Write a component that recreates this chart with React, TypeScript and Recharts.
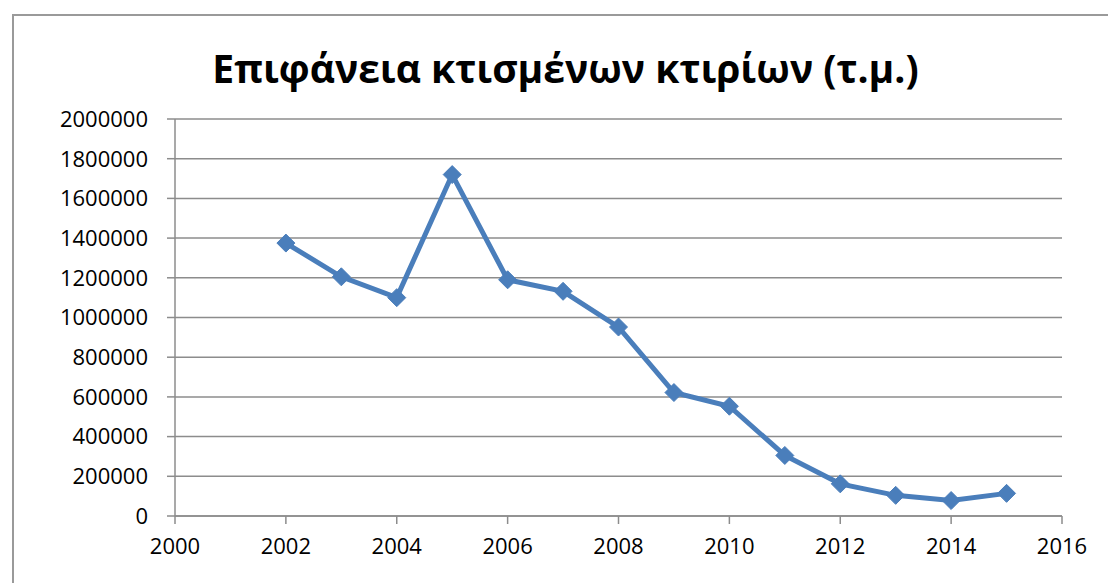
import { LineChart, Line, XAxis, YAxis, CartesianGrid } from "recharts";

const years = [2002, 2003, 2004, 2005, 2006, 2007, 2008, 2009, 2010, 2011, 2012, 2013, 2014, 2015];
const builtArea = [1375000, 1205000, 1100000, 1720000, 1190000, 1132000, 952000, 622000, 553000, 305000, 162000, 104000, 78000, 114000];
const xTicks = [2000, 2002, 2004, 2006, 2008, 2010, 2012, 2014, 2016];
const yTicks = [0, 200000, 400000, 600000, 800000, 1000000, 1200000, 1400000, 1600000, 1800000, 2000000];

const data = years.map((year, i) => ({ year, area: builtArea[i] }));

const BLUE = "#4a7ebb";
const GRID = "#8c8c8c";
const FONT = "'Open Sans', sans-serif";

const Diamond = (props: any) => {
  const { cx, cy } = props;
  if (cx == null || cy == null) return null;
  const r = 9;
  return (
    <polygon
      points={`${cx},${cy - r} ${cx + r},${cy} ${cx},${cy + r} ${cx - r},${cy}`}
      fill={BLUE}
      stroke={BLUE}
      strokeWidth={1}
    />
  );
};

export default function App() {
  return (
    <div style={{ position: "absolute", left: 0, top: 0, width: 1108, height: 583, background: "#fff", overflow: "hidden", fontFamily: FONT }}>
      <div style={{ position: "absolute", left: 12, top: 14, width: 1200, height: 700, borderLeft: "2px solid #9a9a9a", borderTop: "2px solid #9a9a9a" }} />
      <div style={{ position: "absolute", left: 0, top: 44, width: 1131, textAlign: "center", fontSize: 39, fontWeight: 700, lineHeight: "48px", color: "#000" }}>
        Επιφάνεια κτισμένων κτιρίων (τ.μ.)
      </div>
      <div style={{ position: "absolute", left: 0, top: 0 }}>
        <LineChart width={1108} height={583} data={data} margin={{ top: 119, right: 46, bottom: 17, left: 55 }}>
          <CartesianGrid vertical={false} stroke={GRID} strokeWidth={1.5} />
          <XAxis
            dataKey="year"
            type="number"
            domain={[2000, 2016]}
            ticks={xTicks}
            interval={0}
            height={50}
            tickSize={8}
            tickMargin={14}
            axisLine={{ stroke: GRID, strokeWidth: 1.5 }}
            tickLine={{ stroke: GRID, strokeWidth: 1.5 }}
            tick={{ fill: "#000", fontSize: 22, fontFamily: FONT }}
          />
          <YAxis
            type="number"
            domain={[0, 2000000]}
            ticks={yTicks}
            interval={0}
            width={120}
            tickSize={8}
            tickMargin={19}
            axisLine={{ stroke: GRID, strokeWidth: 1.5 }}
            tickLine={{ stroke: GRID, strokeWidth: 1.5 }}
            tick={{ fill: "#000", fontSize: 22, fontFamily: FONT }}
          />
          <Line
            dataKey="area"
            stroke={BLUE}
            strokeWidth={5}
            dot={<Diamond />}
            activeDot={false}
            isAnimationActive={false}
          />
        </LineChart>
      </div>
    </div>
  );
}
